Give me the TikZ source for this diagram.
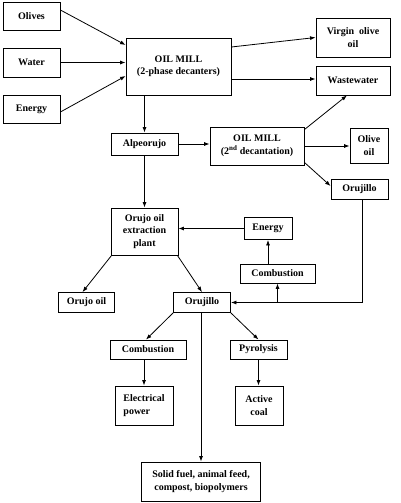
\documentclass[tikz,border=0pt]{standalone}
\usepackage{fontspec}
\setmainfont{Liberation Serif}
\usetikzlibrary{arrows.meta}

\begin{document}
\begin{tikzpicture}
        [%%%%%%%%%%%%%%%%%%%%%%%%%%%%%%
        x=1pt, y=-1pt,
        box/.style={draw, line width=0.8pt, inner sep=0pt, align=center,
          font=\bfseries\fontsize{10}{12.5}\selectfont},
        arr/.style={-{Latex[length=5.5pt,width=4pt]}, line width=0.8pt},
        ]%%%%%%%%%%%%%%%%%%%%%%%%%%%%%%
        \useasboundingbox (0,0) rectangle (400,503);
        % Inputs
        \node[box, minimum width=57, minimum height=28] (olives) at (31.5,16) {Olives};
        \node[box, minimum width=57, minimum height=29] (water) at (31.5,62.5) {Water};
        \node[box, minimum width=57, minimum height=28] (energyin) at (31.5,109) {Energy};
        % First mill
        \node[box, minimum width=105, minimum height=57] (mill) at (178.5,66.5) {OIL MILL\\(2-phase decanters)};
        \node[box, minimum width=74, minimum height=39] (virgin) at (353,37.5) {Virgin\ \ olive\\oil};
        \node[box, minimum width=74, minimum height=29] (waste) at (353,80.5) {Wastewater};
        % Second mill
        \node[box, minimum width=67, minimum height=22] (alpe) at (144.5,144) {Alpeorujo};
        \node[box, minimum width=94, minimum height=38] (milltwo) at (257,146) {OIL MILL\\(2\textsuperscript{nd} decantation)};
        \node[box, minimum width=38, minimum height=35] (oliveoil) at (369,145.5) {Olive\\oil};
        \node[box, minimum width=57, minimum height=20] (orujilloa) at (359.5,189) {Orujillo};
        % Extraction plant
        \node[box, minimum width=67, minimum height=47] (plant) at (144.5,231.5) {Orujo oil\\extraction\\plant};
        \node[box, minimum width=48, minimum height=22] (energyb) at (268,228.5) {Energy};
        \node[box, minimum width=75, minimum height=19] (comba) at (277.5,273.5) {Combustion};
        \node[box, minimum width=56, minimum height=20] (orujooil) at (86.5,302.5) {Orujo oil};
        \node[box, minimum width=57, minimum height=20] (orujillob) at (202,302.5) {Orujillo};
        % Uses of orujillo
        \node[box, minimum width=76, minimum height=19] (combb) at (148,349.5) {Combustion};
        \node[box, minimum width=57, minimum height=19] (pyro) at (258.5,349.5) {Pyrolysis};
        \node[box, minimum width=58, minimum height=39, align=left] (elec) at (144,405.5) {Electrical\\power};
        \node[box, minimum width=48, minimum height=39] (coal) at (259,405.5) {Active\\coal};
        \node[box, minimum width=119, minimum height=39] (solid) at (201,481.5) {Solid fuel, animal feed,\\compost, biopolymers};
        % Lines
        \draw[arr] ([yshift=6]olives.east) -- ([yshift=21.5]mill.west);
        \draw[arr] (water.east) -- (water.east -| mill.west);
        \draw[arr] ([yshift=-3]energyin.east) -- ([yshift=-9.5]mill.west);
        \draw[arr] ([yshift=19.5]mill.east) -- (virgin.west);
        \draw[arr] ([yshift=-12.5]mill.east) -- ([yshift=-12.5]mill.east -| waste.west);
        \draw[arr] (alpe.north |- mill.south) -- (alpe.north);
        \draw[arr] ([yshift=-3]milltwo.north east) -- ([xshift=-6]waste.south);
        \draw[arr] (alpe.east) -- (alpe.east -| milltwo.west);
        \draw[arr] (milltwo.east) -- (milltwo.east -| oliveoil.west);
        \draw[arr] ([yshift=3]milltwo.south east) -- ([yshift=3]orujilloa.west);
        \draw[arr] (alpe.south) -- (plant.north);
        \draw[arr] (energyb.west) -- (energyb.west -| plant.east);
        \draw[arr] (energyb.south |- comba.north) -- (energyb.south);
        \draw[arr] ([xshift=3]orujilloa.south) |- (orujillob.east);
        \coordinate (split) at (comba.south |- orujillob.east);
        \draw[arr] (split) -- (comba.south);
        \draw[arr] ([xshift=1]plant.south west) -- ([xshift=-4]orujooil.north);
        \draw[arr] ([xshift=-1]plant.south east) -- (orujillob.north);
        \draw[arr] (orujillob.south west) -- ([xshift=-2]combb.north);
        \draw[arr] (orujillob.south east) -- (pyro.north);
        \draw[arr] ([xshift=-1]orujillob.south) -- ([xshift=-1]orujillob.south |- solid.north);
        \draw[arr] (elec.north |- combb.south) -- (elec.north);
        \draw[arr] (pyro.south) -- (pyro.south |- coal.north);
\end{tikzpicture}
\end{document}
